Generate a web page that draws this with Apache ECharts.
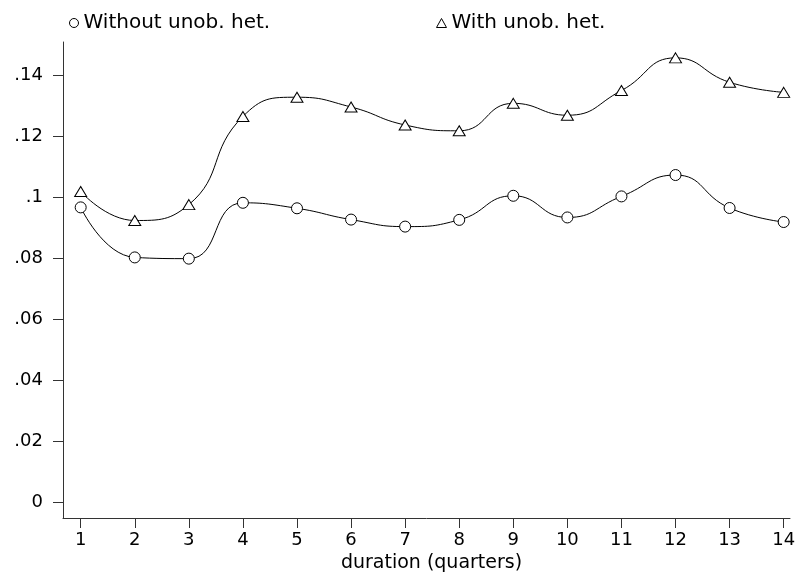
<!DOCTYPE html>
<html>
<head>
<meta charset="utf-8">
<script src="https://cdn.jsdelivr.net/npm/echarts@6/dist/echarts.min.js"></script>
<style>
  html, body { margin: 0; padding: 0; background: #fff; }
  #chart { width: 800px; height: 576px; }
</style>
</head>
<body>
<div id="chart"></div>
<script>
// duration in quarters
const quarters = [1, 2, 3, 4, 5, 6, 7, 8, 9, 10, 11, 12, 13, 14];
// hazard without unobserved heterogeneity
const withoutHet = [0.0966, 0.0802, 0.0798, 0.0981, 0.0963, 0.0926, 0.0903, 0.0925, 0.1004, 0.0933, 0.1002, 0.1072, 0.0964, 0.0918];
// hazard with unobserved heterogeneity
const withHet = [0.1018, 0.0923, 0.0975, 0.1264, 0.1327, 0.1295, 0.1236, 0.1217, 0.1307, 0.1268, 0.1349, 0.1456, 0.1376, 0.1343];
const yTicks = [0, 0.02, 0.04, 0.06, 0.08, 0.1, 0.12, 0.14];

const font = 'DejaVu Sans, Arial, sans-serif';

// stata style labels: .14 instead of 0.14
function stataLabel (v) {
  if (v === 0) return '0';
  return String(+v.toFixed(2)).replace(/^0/, '');
}

const chart = echarts.init(document.getElementById('chart'));

const option = {
  animation: false,
  backgroundColor: '#fff',
  textStyle: { fontFamily: font },
  legend: [
    {
      left: 64,
      top: 8,
      data: [{ name: 'Without unob. het.', icon: 'circle' }],
      itemWidth: 9,
      itemHeight: 9,
      itemGap: 8,
      itemStyle: { color: '#fff', borderColor: '#000', borderWidth: 1 },
      textStyle: { fontSize: 20, color: '#000', fontFamily: font }
    },
    {
      left: 431,
      top: 8,
      data: [{ name: 'With unob. het.', icon: 'triangle' }],
      itemWidth: 10,
      itemHeight: 9,
      itemGap: 9,
      itemStyle: { color: '#fff', borderColor: '#000', borderWidth: 1 },
      textStyle: { fontSize: 20, color: '#000', fontFamily: font }
    }
  ],
  grid: {
    left: 63,
    right: 10,
    top: 42,
    bottom: 58,
    outerBoundsMode: 'none'
  },
  xAxis: {
    type: 'value',
    min: 0.673,
    max: 14.117,
    name: 'duration (quarters)',
    nameLocation: 'middle',
    nameGap: 36,
    nameTextStyle: { fontSize: 19, color: '#000', fontFamily: font, padding: [0, 0, 0, 10] },
    axisLine: { show: true, onZero: false, lineStyle: { color: '#333', width: 1 } },
    axisTick: { show: true, customValues: quarters, length: 10, lineStyle: { color: '#333' } },
    axisLabel: { customValues: quarters, margin: 13, fontSize: 18, color: '#000', fontFamily: font },
    splitLine: { show: false }
  },
  yAxis: {
    type: 'value',
    min: -0.0052,
    max: 0.1508,
    axisLine: { show: true, onZero: false, lineStyle: { color: '#333', width: 1 } },
    axisTick: { show: true, customValues: yTicks, length: 10, lineStyle: { color: '#333' } },
    axisLabel: {
      customValues: yTicks,
      margin: 20,
      fontSize: 18,
      color: '#000',
      fontFamily: font,
      formatter: stataLabel
    },
    splitLine: { show: false }
  },
  series: [
    {
      name: 'Without unob. het.',
      type: 'line',
      smooth: 0.5,
      data: quarters.map((q, i) => [q, withoutHet[i]]),
      symbol: 'circle',
      symbolSize: 11,
      lineStyle: { color: '#000', width: 1 },
      itemStyle: { color: '#fff', borderColor: '#000', borderWidth: 1 }
    },
    {
      name: 'With unob. het.',
      type: 'line',
      smooth: 0.5,
      data: quarters.map((q, i) => [q, withHet[i]]),
      symbol: 'triangle',
      symbolSize: [12, 10],
      lineStyle: { color: '#000', width: 1 },
      itemStyle: { color: '#fff', borderColor: '#000', borderWidth: 1 }
    }
  ]
};

chart.setOption(option);
</script>
</body>
</html>
